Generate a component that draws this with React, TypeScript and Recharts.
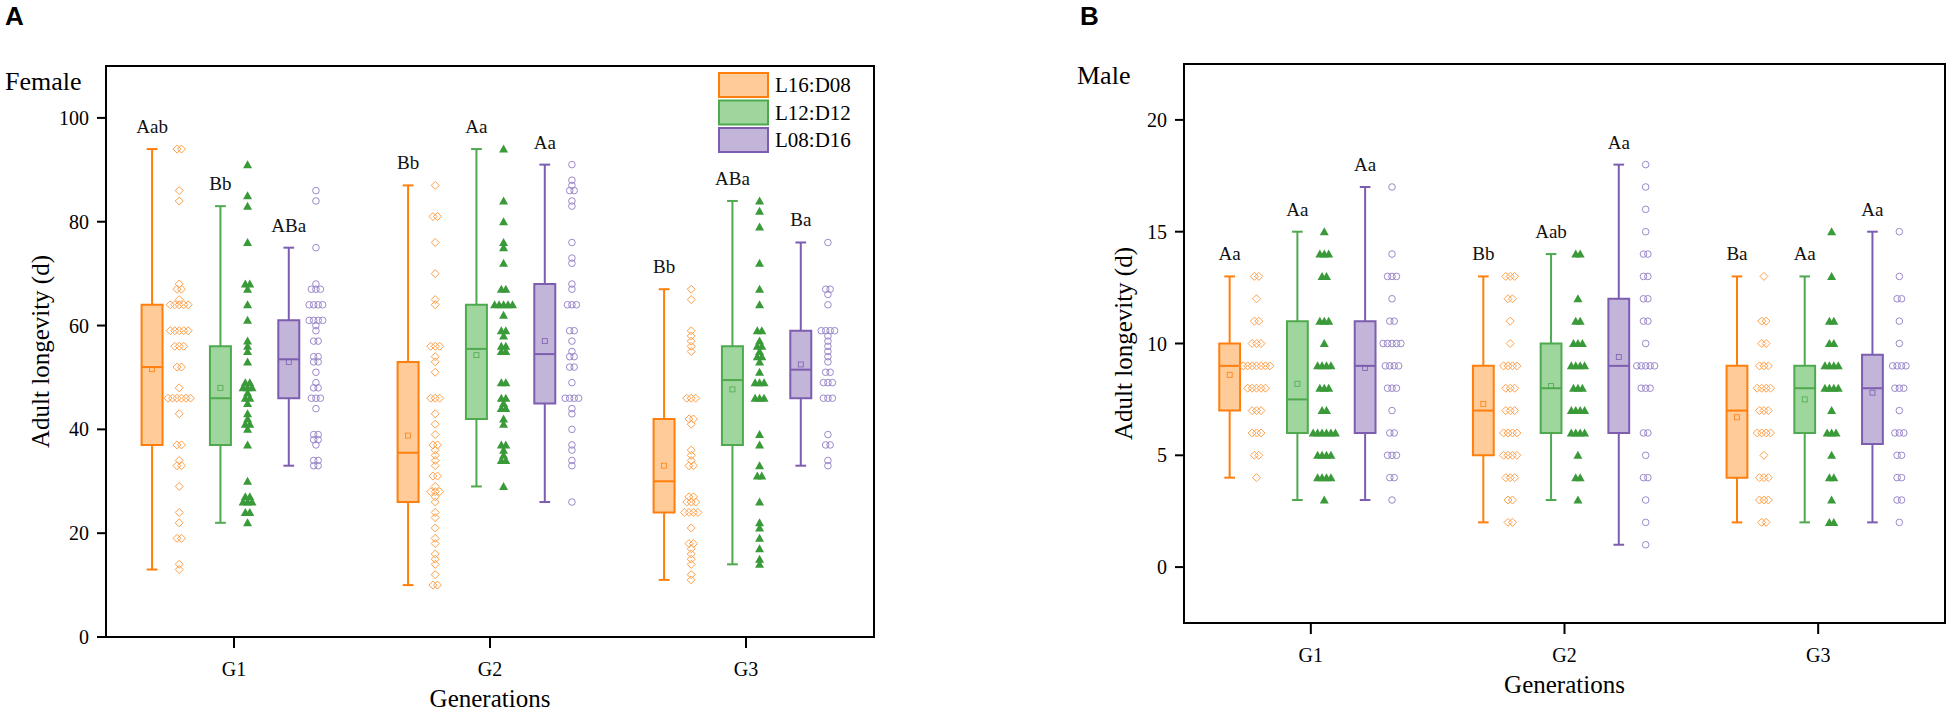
import React from 'react';
import { ComposedChart, Scatter, XAxis, YAxis, ReferenceArea, ReferenceLine, ReferenceDot, Label } from 'recharts';

const generations = ['G1', 'G2', 'G3'];
const photoperiods = ['L16:D08', 'L12:D12', 'L08:D16'];

// Female adult longevity, one array per generation and photoperiod
const fG1L16 = [94, 94, 86, 84, 68, 67, 67, 65, 64, 64, 64, 64, 64, 59, 59, 59, 59, 59, 56, 56, 56, 52, 52, 48, 46, 46, 46, 46, 46, 46, 43, 37, 37, 34, 33, 33, 29, 24, 22, 19, 19, 14, 13];
const fG1L12 = [91, 85, 83, 76, 68, 68, 67, 64, 61, 57, 56, 55, 53, 49, 49, 48, 48, 48, 47, 46, 46, 45, 43, 42, 41, 41, 40, 37, 30, 27, 27, 26, 26, 26, 24, 24, 22];
const fG1L08 = [86, 84, 75, 68, 67, 67, 67, 64, 64, 64, 64, 61, 61, 61, 61, 60, 59, 57, 57, 54, 54, 53, 53, 51, 49, 48, 48, 46, 46, 46, 44, 39, 39, 38, 38, 37, 34, 34, 33, 33];
const fG2L16 = [87, 81, 81, 76, 70, 65, 64, 56, 56, 56, 54, 53, 51, 46, 46, 46, 43, 41, 39, 37, 37, 36, 35, 34, 33, 31, 31, 29, 28, 28, 28, 27, 26, 24, 23, 21, 19, 18, 16, 15, 14, 12, 10, 10];
const fG2L12 = [94, 84, 80, 76, 75, 72, 67, 67, 64, 64, 64, 64, 64, 62, 59, 59, 58, 56, 56, 55, 55, 49, 49, 46, 46, 45, 44, 44, 42, 41, 37, 37, 36, 35, 34, 34, 29];
const fG2L08 = [91, 88, 87, 86, 86, 84, 83, 76, 73, 72, 68, 67, 64, 64, 64, 59, 59, 57, 55, 54, 54, 52, 52, 49, 46, 46, 46, 46, 44, 43, 40, 37, 36, 34, 33, 26];
const fG3L16 = [67, 65, 59, 58, 57, 56, 55, 46, 46, 46, 42, 42, 41, 36, 35, 34, 33, 33, 27, 27, 26, 26, 26, 24, 24, 24, 24, 21, 18, 18, 17, 16, 15, 14, 12, 11];
const fG3L12 = [84, 82, 79, 72, 67, 64, 59, 59, 57, 56, 56, 55, 54, 54, 53, 51, 49, 49, 49, 46, 46, 46, 39, 37, 33, 31, 31, 26, 22, 21, 19, 17, 15, 14];
const fG3L08 = [76, 67, 67, 66, 64, 59, 59, 59, 59, 58, 57, 56, 55, 54, 53, 51, 51, 49, 49, 49, 46, 46, 46, 39, 37, 37, 34, 33];

// Male adult longevity
const mG1L16 = [13, 13, 12, 11, 11, 10, 10, 10, 9, 9, 9, 9, 9, 9, 9, 8, 8, 8, 8, 8, 7, 7, 7, 6, 6, 6, 5, 5, 4];
const mG1L12 = [15, 14, 14, 14, 13, 13, 11, 11, 11, 10, 9, 9, 9, 9, 8, 8, 8, 7, 7, 6, 6, 6, 6, 6, 6, 5, 5, 5, 5, 4, 4, 4, 4, 3];
const mG1L08 = [17, 14, 13, 13, 13, 12, 11, 11, 10, 10, 10, 10, 10, 9, 9, 9, 9, 8, 8, 8, 7, 6, 6, 5, 5, 5, 4, 4, 3];
const mG2L16 = [13, 13, 13, 12, 12, 11, 10, 9, 9, 9, 9, 8, 8, 8, 7, 7, 7, 6, 6, 6, 6, 5, 5, 5, 5, 4, 4, 4, 3, 3, 2, 2];
const mG2L12 = [14, 14, 12, 11, 11, 10, 10, 10, 9, 9, 9, 9, 8, 8, 8, 7, 7, 7, 7, 6, 6, 6, 6, 5, 4, 4, 3];
const mG2L08 = [18, 17, 16, 15, 14, 14, 13, 13, 12, 12, 11, 11, 10, 9, 9, 9, 9, 9, 8, 8, 8, 6, 6, 5, 4, 4, 3, 2, 1];
const mG3L16 = [13, 11, 11, 10, 10, 9, 9, 9, 8, 8, 8, 8, 7, 7, 7, 6, 6, 6, 6, 5, 4, 4, 4, 3, 3, 3, 2, 2];
const mG3L12 = [15, 13, 11, 11, 10, 10, 9, 9, 9, 9, 8, 8, 8, 8, 7, 6, 6, 6, 5, 4, 4, 3, 2, 2];
const mG3L08 = [15, 13, 12, 12, 11, 10, 9, 9, 9, 9, 8, 8, 8, 7, 6, 6, 6, 5, 5, 4, 4, 3, 3, 2];

// box stats per generation: [lower whisker, Q1, median, Q3, upper whisker]
const femaleBoxL16 = [[13, 37, 52, 64, 94], [10, 26, 35.5, 53, 87], [11, 24, 30, 42, 67]];
const femaleBoxL12 = [[22, 37, 46, 56, 83], [29, 42, 55.5, 64, 94], [14, 37, 49.5, 56, 84]];
const femaleBoxL08 = [[33, 46, 53.5, 61, 75], [26, 45, 54.5, 68, 91], [33, 46, 51.5, 59, 76]];
const femaleMeanL16 = [51.6, 38.8, 33];
const femaleMeanL12 = [48, 54.3, 47.7];
const femaleMeanL08 = [53, 57, 52.5];
const femaleLetters = [['Aab', 'Bb', 'ABa'], ['Bb', 'Aa', 'Aa'], ['Bb', 'ABa', 'Ba']];

const maleBoxL16 = [[4, 7, 9, 10, 13], [2, 5, 7, 9, 13], [2, 4, 7, 9, 13]];
const maleBoxL12 = [[3, 6, 7.5, 11, 15], [3, 6, 8, 10, 14], [2, 6, 8, 9, 13]];
const maleBoxL08 = [[3, 6, 9, 11, 17], [1, 6, 9, 12, 18], [2, 5.5, 8, 9.5, 15]];
const maleMeanL16 = [8.6, 7.3, 6.7];
const maleMeanL12 = [8.2, 8.1, 7.5];
const maleMeanL08 = [8.9, 9.4, 7.8];
const maleLetters = [['Aa', 'Aa', 'Aa'], ['Bb', 'Aab', 'Aa'], ['Ba', 'Aa', 'Aa']];

const femaleTicks = [0, 20, 40, 60, 80, 100];
const maleTicks = [0, 5, 10, 15, 20];

const strokeColors = ['#FF7F0E', '#4FA94F', '#7D5DAF'];
const fillColors = ['#FFCC99', '#9ED69E', '#C3B4DA'];
const pointColors = ['#FFA04A', '#3A9A3A', '#9C89CA'];

const boxOffsets = [-0.32, -0.053, 0.214];
const pointShift = 0.106;
const halfBox = 0.041;
const halfCap = 0.021;
const dupStep = 0.0175;

const serif = 'Liberation Serif, Times New Roman, serif';
const textStyle = { fontFamily: serif };

// side by side placement for repeated values
const spread = (values: number[], center: number) => {
  const totals: Record<number, number> = {};
  values.forEach((v) => { totals[v] = (totals[v] || 0) + 1; });
  const seen: Record<number, number> = {};
  return values.map((v) => {
    seen[v] = (seen[v] ?? -1) + 1;
    return { x: center + (seen[v] - (totals[v] - 1) / 2) * dupStep, y: v };
  });
};

const diamond = (p: any) => (
  <path d={`M${p.cx},${p.cy - 4}L${p.cx + 4},${p.cy}L${p.cx},${p.cy + 4}L${p.cx - 4},${p.cy}Z`}
    fill="none" stroke={pointColors[0]} strokeWidth={1} />
);
const triangle = (p: any) => (
  <path d={`M${p.cx},${p.cy - 4.5}L${p.cx + 4.5},${p.cy + 3.5}L${p.cx - 4.5},${p.cy + 3.5}Z`}
    fill={pointColors[1]} />
);
const circle = (p: any) => (
  <circle cx={p.cx} cy={p.cy} r={3.3} fill="none" stroke={pointColors[2]} strokeWidth={1} />
);
const shapes = [diamond, triangle, circle];

interface PanelProps {
  width: number;
  top: number;
  axisHeight: number;
  marginRight: number;
  yDomain: [number, number];
  yTicks: number[];
  boxes: number[][][];
  means: number[][];
  points: number[][][];
  letters: string[][];
  yLabelX: number;
}

const Panel = ({ width, top, axisHeight, marginRight, yDomain, yTicks, boxes, means, points, letters, yLabelX }: PanelProps) => {
  const boxEls: React.ReactNode[] = [];
  boxes.forEach((perGen, p) => {
    perGen.forEach(([lo, q1, med, q3, hi], g) => {
      const x = g + 1 + boxOffsets[p];
      const c = strokeColors[p];
      const k = `${p}-${g}`;
      boxEls.push(
        <ReferenceLine key={`wl${k}`} segment={[{ x, y: lo }, { x, y: q1 }]} stroke={c} strokeWidth={2} />,
        <ReferenceLine key={`wh${k}`} segment={[{ x, y: q3 }, { x, y: hi }]} stroke={c} strokeWidth={2} />,
        <ReferenceLine key={`cl${k}`} segment={[{ x: x - halfCap, y: lo }, { x: x + halfCap, y: lo }]} stroke={c} strokeWidth={2} />,
        <ReferenceLine key={`ch${k}`} segment={[{ x: x - halfCap, y: hi }, { x: x + halfCap, y: hi }]} stroke={c} strokeWidth={2} />,
        <ReferenceArea key={`b${k}`} x1={x - halfBox} x2={x + halfBox} y1={q1} y2={q3}
          fill={fillColors[p]} fillOpacity={1} stroke={c} strokeWidth={2} />,
        <ReferenceLine key={`m${k}`} segment={[{ x: x - halfBox, y: med }, { x: x + halfBox, y: med }]} stroke={c} strokeWidth={2} />,
        <ReferenceDot key={`mean${k}`} x={x} y={means[p][g]} r={3}
          shape={(d: any) => <rect x={d.cx - 2.5} y={d.cy - 2.5} width={5} height={5} fill="none" stroke={c} strokeWidth={0.8} />} />,
        <ReferenceDot key={`t${k}`} x={x} y={hi} r={0}
          shape={(d: any) => (
            <text x={d.cx} y={d.cy - 16} textAnchor="middle" fontSize={19} fontFamily={serif} style={textStyle} fill="#111">
              {letters[g][p]}
            </text>
          )} />,
      );
    });
  });

  return (
    <ComposedChart width={width} height={714} margin={{ top, right: marginRight, bottom: 0, left: 0 }} style={textStyle}>
      <XAxis type="number" dataKey="x" domain={[0.5, 3.5]} ticks={[1, 2, 3]} height={axisHeight}
        tickFormatter={(v: number) => generations[v - 1]}
        axisLine={{ stroke: '#000', strokeWidth: 2 }} tickLine={{ stroke: '#000', strokeWidth: 2 }}
        tickSize={11} tickMargin={14} tick={{ fill: '#000', fontSize: 20, fontFamily: serif, style: textStyle }}>
        <Label content={(props: any) => {
          const vb = props.viewBox || { x: 106, y: 637, width: 768 };
          return (
            <text x={vb.x + vb.width / 2} y={vb.y + 70} textAnchor="middle" fontSize={25} fontFamily={serif} style={textStyle} fill="#000">
              Generations
            </text>
          );
        }} />
      </XAxis>
      <YAxis type="number" dataKey="y" domain={yDomain} ticks={yTicks} width={106}
        axisLine={{ stroke: '#000', strokeWidth: 2 }} tickLine={{ stroke: '#000', strokeWidth: 2 }}
        tickSize={9} tickMargin={8} tick={{ fill: '#000', fontSize: 20, fontFamily: serif, style: textStyle }}>
        <Label content={(props: any) => {
          const vb = props.viewBox || { x: 0, y: top, height: 571 };
          const cx = vb.x + yLabelX;
          const cy = vb.y + vb.height / 2;
          return (
            <text x={cx} y={cy} transform={`rotate(-90 ${cx} ${cy})`} textAnchor="middle" dominantBaseline="central"
              fontSize={25} fontFamily={serif} style={textStyle} fill="#000">
              Adult longevity (d)
            </text>
          );
        }} />
      </YAxis>
      <ReferenceArea x1={0.5} x2={3.5} y1={yDomain[0]} y2={yDomain[1]} fill="none" stroke="#000" strokeWidth={2} />
      {boxEls}
      {points.map((perGen, p) => (
        <Scatter key={photoperiods[p]} name={photoperiods[p]} isAnimationActive={false}
          data={perGen.flatMap((vals, g) => spread(vals, g + 1 + boxOffsets[p] + pointShift))}
          shape={shapes[p]} />
      ))}
    </ComposedChart>
  );
};

const LegendBox = () => (
  <svg width={160} height={84}>
    {photoperiods.map((name, i) => (
      <g key={name} transform={`translate(0, ${i * 27.5})`}>
        <rect x={1} y={1} width={49} height={24} fill={fillColors[i]} stroke={strokeColors[i]} strokeWidth={2} />
        <text x={57} y={20} fontSize={21} fontFamily={serif} style={textStyle} fill="#000">{name}</text>
      </g>
    ))}
  </svg>
);

const titleStyle: React.CSSProperties = { position: 'absolute', fontFamily: 'Liberation Sans, Arial, sans-serif', fontWeight: 'bold', fontSize: 26, lineHeight: '26px' };
const sexStyle: React.CSSProperties = { position: 'absolute', fontFamily: serif, fontSize: 26, lineHeight: '26px' };

export default function App() {
  return (
    <div style={{ position: 'absolute', left: 0, top: 0, width: 1949, height: 714, background: '#fff', overflow: 'hidden', fontFamily: serif }}>
      <div style={{ position: 'absolute', left: 0, top: 0 }}>
        <Panel width={975} top={66} axisHeight={77} marginRight={101} yDomain={[0, 110]} yTicks={femaleTicks}
          boxes={[femaleBoxL16, femaleBoxL12, femaleBoxL08]}
          means={[femaleMeanL16, femaleMeanL12, femaleMeanL08]}
          points={[[fG1L16, fG2L16, fG3L16], [fG1L12, fG2L12, fG3L12], [fG1L08, fG2L08, fG3L08]]}
          letters={femaleLetters} yLabelX={40} />
      </div>
      <div style={{ position: 'absolute', left: 1078, top: 0 }}>
        <Panel width={871} top={64} axisHeight={91} marginRight={4} yDomain={[-2.5, 22.5]} yTicks={maleTicks}
          boxes={[maleBoxL16, maleBoxL12, maleBoxL08]}
          means={[maleMeanL16, maleMeanL12, maleMeanL08]}
          points={[[mG1L16, mG2L16, mG3L16], [mG1L12, mG2L12, mG3L12], [mG1L08, mG2L08, mG3L08]]}
          letters={maleLetters} yLabelX={45} />
      </div>
      <div style={{ ...titleStyle, left: 5, top: 3 }}>A</div>
      <div style={{ ...titleStyle, left: 1080, top: 3 }}>B</div>
      <div style={{ ...sexStyle, left: 5, top: 69 }}>Female</div>
      <div style={{ ...sexStyle, left: 1077, top: 63 }}>Male</div>
      <div style={{ position: 'absolute', left: 718, top: 72 }}>
        <LegendBox />
      </div>
    </div>
  );
}
